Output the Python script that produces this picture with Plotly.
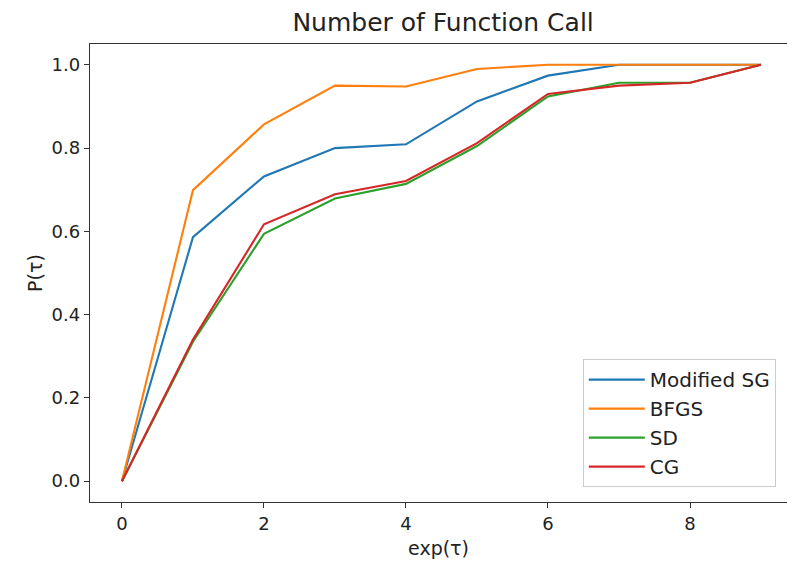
import plotly.graph_objects as go

x_vals = [0, 1, 2, 3, 4, 5, 6, 7, 8, 9]
modified_sg = [0.0, 0.586, 0.732, 0.800, 0.809, 0.912, 0.974, 1.0, 1.0, 1.0]
bfgs = [0.0, 0.699, 0.857, 0.950, 0.948, 0.990, 1.0, 1.0, 1.0, 1.0]
sd = [0.0, 0.335, 0.594, 0.679, 0.714, 0.805, 0.924, 0.957, 0.957, 1.0]
cg = [0.0, 0.340, 0.617, 0.689, 0.721, 0.812, 0.930, 0.950, 0.957, 1.0]

series = [
    ("Modified SG", modified_sg, "#1f77b4"),
    ("BFGS", bfgs, "#ff7f0e"),
    ("SD", sd, "#2ca02c"),
    ("CG", cg, "#d62728"),
]

fig = go.Figure()
for name, ys, color in series:
    fig.add_trace(go.Scatter(x=x_vals, y=ys, mode="lines", name=name,
                             line=dict(color=color, width=2.1)))

font_family = "DejaVu Sans"
axis_color = "#333333"

fig.update_layout(
    width=787, height=575,
    margin=dict(l=90, r=0, t=44, b=73),
    paper_bgcolor="white", plot_bgcolor="white",
    font=dict(family=font_family, color="#222222", size=18),
    title=dict(text="Number of Function Call", x=0.5066, xref="paper",
               xanchor="center", y=1 - 22 / 575, yref="container", yanchor="middle",
               font=dict(size=25, family=font_family, color="#222222")),
    showlegend=True,
    legend=dict(x=0.707, y=0.312, xanchor="left", yanchor="top",
                bgcolor="white", bordercolor="#cccccc", borderwidth=1,
                font=dict(size=20, family=font_family, color="#222222"),
                tracegroupgap=0, itemwidth=56),
    xaxis=dict(range=[-0.45, 9.366], tickmode="array", tickvals=[0, 2, 4, 6, 8],
               ticktext=["0", "2", "4", "6", "8"],
               showgrid=False, zeroline=False, showline=True, linecolor=axis_color,
               linewidth=1.3, mirror=True, ticks="outside", ticklen=5, tickwidth=1.3,
               tickcolor=axis_color, tickfont=dict(size=18),
               title=dict(text="exp(τ)", font=dict(size=19), standoff=8)),
    yaxis=dict(range=[-0.05, 1.05], tickmode="array",
               tickvals=[0, 0.2, 0.4, 0.6, 0.8, 1.0],
               ticktext=["0.0", "0.2", "0.4", "0.6", "0.8", "1.0"],
               showgrid=False, zeroline=False, showline=True, linecolor=axis_color,
               linewidth=1.3, mirror=False, ticks="outside", ticklen=5, tickwidth=1.3,
               tickcolor=axis_color, tickfont=dict(size=18),
               title=dict(text="P(τ)", font=dict(size=19), standoff=3)),
)

fig.write_html("out.html")
